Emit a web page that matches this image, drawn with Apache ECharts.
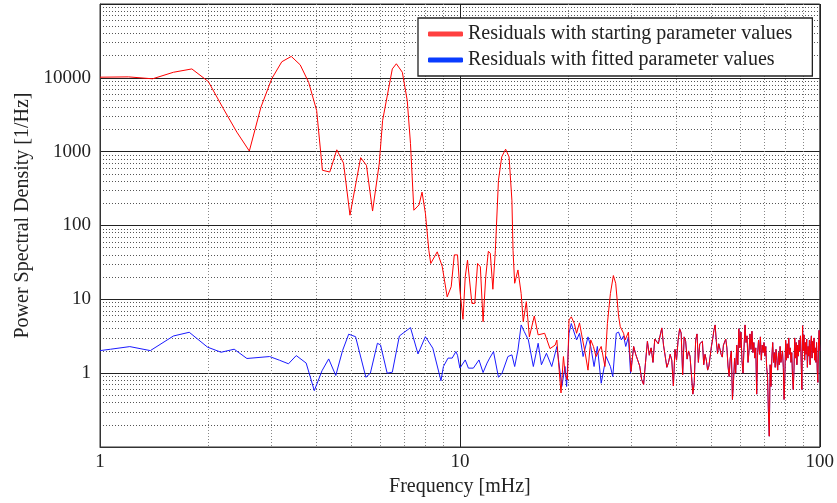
<!DOCTYPE html>
<html lang="en">
<head>
<meta charset="UTF-8">
<title>Residual PSD</title>
<script src="https://cdn.jsdelivr.net/npm/echarts@6/dist/echarts.min.js"></script>
<style>
  html, body { margin: 0; padding: 0; background: #fff; }
  #main { width: 837px; height: 503px; }
</style>
</head>
<body>
<div id="main"></div>
<script>
// low-frequency part: [frequency mHz, PSD]
var redLow = [
  [1.0, 10200], [1.2, 10300], [1.4, 9700], [1.6, 11900], [1.8, 13200], [2.0, 8900],
  [2.2, 3850], [2.4, 1840], [2.6, 1020], [2.8, 4000], [3.0, 9700], [3.2, 16500],
  [3.4, 19500], [3.6, 15000], [3.8, 8700], [4.0, 3600], [4.15, 560], [4.35, 530],
  [4.55, 1060], [4.75, 700], [4.95, 138], [5.3, 830], [5.5, 653], [5.72, 157],
  [5.97, 690], [6.1, 2650], [6.49, 13200], [6.66, 15500], [6.92, 11900], [7.14, 4950],
  [7.29, 1290], [7.45, 161], [7.7, 190], [7.85, 283], [8.02, 147], [8.2, 46],
  [8.3, 30.6], [8.65, 44], [8.93, 28], [9.22, 10.8], [9.46, 14.8], [9.65, 40],
  [9.85, 40], [10.0, 13.4], [10.2, 5.36], [10.35, 20.2], [10.5, 34], [10.8, 8.8],
  [11.0, 8.8], [11.2, 30.6], [11.4, 27.6], [11.6, 4.98], [11.8, 20.2], [12.0, 44.8],
  [12.15, 42], [12.35, 13.7], [12.55, 46], [12.8, 410], [13.07, 850], [13.4, 1080],
  [13.7, 850], [13.95, 220], [14.05, 46], [14.2, 16.5], [14.5, 25], [14.8, 12],
  [15.0, 5], [15.3, 9.3], [15.6, 3.1], [16.1, 5.95], [16.5, 3.3], [17.2, 3.47],
  [17.8, 2.15], [18.4, 2.4], [18.6, 2.8], [18.8, 1.4], [19.1, 0.54], [19.4, 1.68],
  [19.6, 1.0], [19.9, 0.81], [20.1, 5.25], [20.4, 5.8], [20.8, 4.7], [21.1, 3.47],
  [21.5, 4.8], [21.8, 3.3], [22.3, 1.86], [22.7, 1.1], [23.1, 2.82], [23.5, 2.3],
  [23.9, 1.68], [24.7, 2.3], [25.3, 1.23], [25.7, 4.7], [26.2, 12], [26.7, 21],
  [27.1, 16.5], [27.6, 6], [27.9, 4.27], [28.5, 3.47], [28.8, 2.82], [29.4, 3.6],
  [29.9, 1.05]
];

var blueLow = [
  [1.0, 2.02], [1.07, 2.11], [1.21, 2.29], [1.38, 2.02], [1.6, 3.19], [1.77, 3.58],
  [1.99, 2.25], [2.17, 1.92], [2.36, 2.11], [2.56, 1.58], [2.96, 1.68], [3.15, 1.5],
  [3.34, 1.34], [3.51, 1.73], [3.74, 1.37], [3.94, 0.58], [4.14, 1.08], [4.32, 1.56],
  [4.52, 0.93], [4.72, 2.02], [4.91, 3.37], [5.13, 3.12], [5.48, 0.88], [5.64, 1.0],
  [5.9, 2.54], [6.02, 2.41], [6.28, 1.0], [6.49, 1.03], [6.79, 3.19], [7.29, 4.14],
  [7.65, 1.82], [8.02, 3.12], [8.41, 2.18], [8.86, 0.79], [9.0, 1.23], [9.27, 1.6],
  [9.52, 1.6], [9.75, 1.96], [9.85, 1.75], [10.0, 1.17], [10.35, 1.51], [10.56, 1.17],
  [10.9, 1.17], [11.3, 1.51], [11.6, 1.02], [11.9, 1.37], [12.1, 1.6], [12.4, 1.96],
  [12.55, 1.87], [12.8, 0.88], [13.1, 1.0], [13.6, 1.68], [13.95, 1.77], [14.2, 1.23],
  [14.5, 2.06], [14.8, 4.5], [15.1, 3.65], [15.5, 2.82], [16.0, 1.23], [16.5, 2.54],
  [16.85, 1.3], [17.4, 1.86], [18.0, 1.23], [18.6, 2.29], [19.0, 1.0], [19.2, 0.66],
  [19.6, 1.23], [19.8, 0.66], [20.1, 3.47], [20.4, 4.7], [21.1, 2.82], [21.5, 3.47],
  [22.0, 1.68], [22.7, 3.1], [23.1, 2.3], [23.6, 1.23], [24.1, 2.3], [24.7, 0.73],
  [25.5, 1.68], [26.2, 1.23], [26.6, 0.9], [27.2, 3.47], [27.6, 3.6], [28.1, 2.82],
  [28.5, 3.2], [28.9, 2.3], [29.4, 3.1], [29.8, 1.0]
];

// above ~30 mHz both residuals coincide: bins of 0.4 mHz starting at 30.4
var noiseStart = 30.4;
var noiseStep = 0.4;
var noiseValues = [
  2.3, 1.8, 1.5, 1.25, 0.82, 0.7, 1.4, 2.7, 1.75, 2.2,
  1.4, 2.9, 3.0, 2.5, 3.2, 4.1, 2.4, 1.7, 1.2, 1.4,
  1.8, 1.5, 0.67, 2.1, 1.5, 2.8, 4.0, 3.5, 0.95, 3.1,
  2.7, 1.55, 2.0, 1.7, 0.95, 0.52, 0.75, 2.8, 3.4, 1.4,
  2.5, 2.6, 2.7, 1.3, 1.8, 1.5, 1.1, 1.25, 1.2, 2.3,
  2.9, 3.8, 4.5, 2.7, 1.85, 2.5, 2.6, 1.8, 1.65, 2.4,
  2.5, 2.9, 2.2, 1.25, 0.9, 1.6, 2.0, 0.44,
  // 57.6 ..
  0.8, 1.6, 1.0, 2.4, 1.3, 4.0, 2.2, 3.6, 1.5, 1.0,
  2.2, 4.5, 2.6, 3.2, 1.4, 2.0, 3.4, 2.1, 3.7, 1.9,
  2.6, 1.6, 2.2, 0.52, 1.9, 2.8, 1.8, 3.1, 1.5, 2.4,
  1.9, 2.6, 1.7, 2.3, 1.2, 0.9, 0.3, 0.14, 1.3, 0.66,
  1.6, 2.6, 1.4, 1.9, 1.2, 2.1, 1.5, 1.1, 1.9, 1.3,
  2.3, 1.4, 1.7, 2.0, 1.2, 0.44, 0.9, 2.8, 1.5, 2.5,
  1.6, 3.0, 1.8, 2.2, 1.4, 1.9, 0.9, 0.6, 1.1, 3.0,
  1.6, 2.6, 1.3, 2.4, 1.7, 2.8, 2.0, 3.2, 1.4, 0.6,
  4.4, 2.0, 3.3, 1.5, 2.6, 1.8, 2.9, 1.2, 2.3, 1.7,
  2.8, 1.3, 2.5, 3.2, 1.6, 2.7, 1.9, 3.0, 1.5, 2.2,
  1.4, 2.6, 1.1, 0.75, 2.4, 3.8, 2.0
];

var xLabels = [1, 10, 100];
var yLabels = [1, 10, 100, 1000, 10000];
var tickMantissas = [2, 3, 4, 5, 6, 7, 8, 9];

function minorValues(fromExp, toExp) {
  var out = [];
  for (var e = fromExp; e < toExp; e++) {
    tickMantissas.forEach(function (m) { out.push(m * Math.pow(10, e)); });
  }
  return out;
}

var noise = noiseValues.map(function (v, i) {
  return [+(noiseStart + noiseStep * i).toFixed(1), v];
});

var serif = "'Liberation Serif', 'DejaVu Serif', serif";
var chart = echarts.init(document.getElementById('main'));

var minorLine = function (color) {
  return { show: true, lineStyle: { color: color, width: 1, type: [1, 2] } };
};

chart.setOption({
  animation: false,
  backgroundColor: '#fff',
  grid: { left: 100, right: 15, top: 4, bottom: 56, show: true, borderColor: '#333', borderWidth: 1 },
  legend: {
    orient: 'vertical',
    left: 418, top: 18,
    padding: [6, 20, 6, 10],
    itemGap: 6,
    itemWidth: 35, itemHeight: 5,
    icon: 'roundRect',
    backgroundColor: '#fff',
    borderColor: '#222', borderWidth: 1.3, borderRadius: 0,
    textStyle: { fontFamily: serif, fontSize: 20, color: '#222', padding: [0, 0, 0, 0] },
    data: ['Residuals with starting parameter values', 'Residuals with fitted parameter values']
  },
  xAxis: [{
    type: 'log', logBase: 10, min: 1, max: 100,
    name: 'Frequency [mHz]', nameLocation: 'middle', nameGap: 25,
    nameTextStyle: { fontFamily: serif, fontSize: 20, color: '#222' },
    axisLine: { show: true, lineStyle: { color: '#333' } },
    axisTick: { show: false },
    axisLabel: {
      fontFamily: serif, fontSize: 19, color: '#222', margin: 6,
      formatter: function (v) { return xLabels.indexOf(Math.round(v)) >= 0 ? String(Math.round(v)) : ''; }
    },
    splitLine: { show: true, lineStyle: { color: '#222', width: 1 } }
  }, {
    type: 'log', logBase: 10, min: 1, max: 100, position: 'bottom',
    axisLine: { show: false }, axisLabel: { show: false },
    axisTick: { show: false, customValues: minorValues(0, 2) },
    splitLine: minorLine('#888')
  }],
  yAxis: [{
    type: 'log', logBase: 10, min: 0.1, max: 100000,
    name: 'Power Spectral Density [1/Hz]', nameLocation: 'middle', nameGap: 66,
    nameTextStyle: { fontFamily: serif, fontSize: 20, color: '#222', padding: [0, 0, 0, 20] },
    axisLine: { show: true, lineStyle: { color: '#333' } },
    axisTick: { show: false },
    axisLabel: {
      fontFamily: serif, fontSize: 19, color: '#222', margin: 9,
      formatter: function (v) { var r = Math.round(v); return yLabels.indexOf(r) >= 0 ? String(r) : ''; }
    },
    splitLine: { show: true, lineStyle: { color: '#222', width: 1 } }
  }, {
    type: 'log', logBase: 10, min: 0.1, max: 100000, position: 'left',
    axisLine: { show: false }, axisLabel: { show: false },
    axisTick: { show: false, customValues: minorValues(-1, 5) },
    splitLine: minorLine('#555')
  }],
  series: [{
    name: 'Residuals with starting parameter values',
    type: 'line', symbol: 'none', z: 4,
    lineStyle: { color: '#ff0000', width: 1 },
    itemStyle: { color: '#ff4040' },
    data: redLow.concat(noise)
  }, {
    name: 'Residuals with fitted parameter values',
    type: 'line', symbol: 'none', z: 3,
    lineStyle: { color: '#1a1aff', width: 1 },
    itemStyle: { color: '#0a3cff' },
    data: blueLow.concat(noise)
  }]
});
</script>
</body>
</html>
